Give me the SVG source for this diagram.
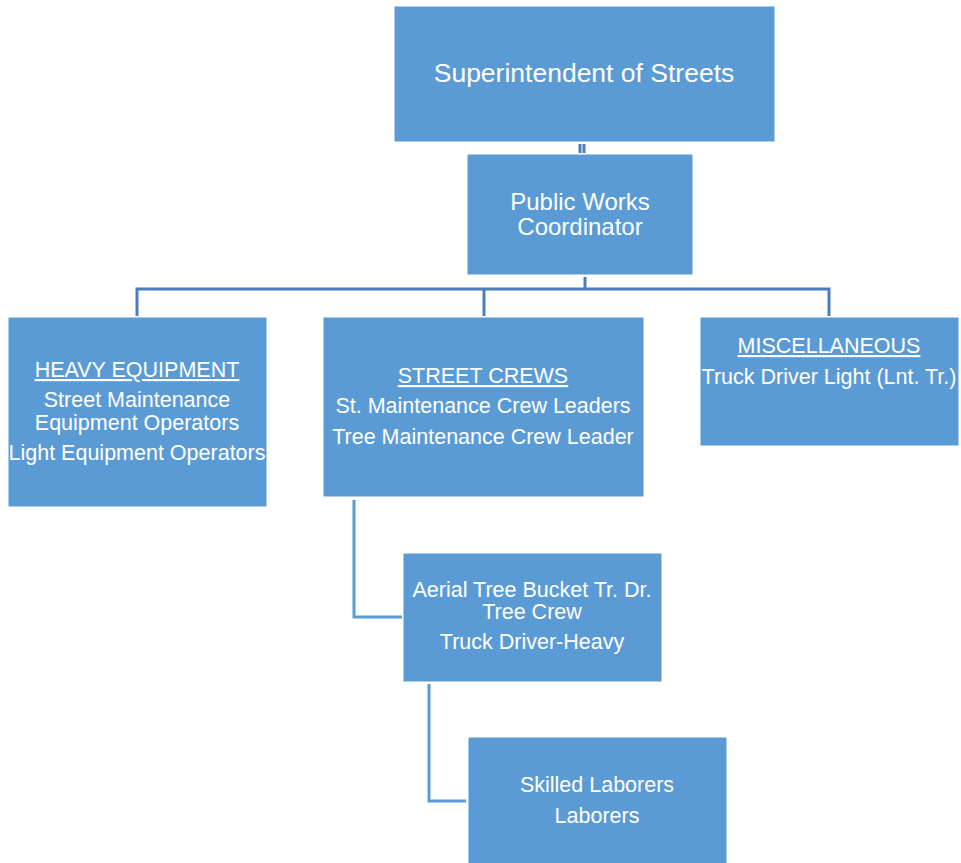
<svg xmlns="http://www.w3.org/2000/svg" width="961" height="863" viewBox="0 0 961 863">
<style>
.box{fill:#5B9BD5;stroke:#5B9BD5;stroke-width:1}
text{font-family:"Liberation Sans",Arial,sans-serif;fill:#fff;text-anchor:middle;font-size:21.5px}
.big{font-size:26.5px}
.mid{font-size:24px}
.u{text-decoration:underline}
.c1{stroke:#4A7EBB;stroke-width:3;fill:none}
.c2{stroke:#5B9BD5;stroke-width:3;fill:none}
</style>
<rect width="961" height="863" fill="#fff"/>
<g id="connectors">
<line class="c1" x1="580" y1="144" x2="580" y2="153"/>
<line class="c1" x1="584" y1="144" x2="584" y2="153"/>
<polyline class="c1" points="585,277 585,289"/>
<polyline class="c1" points="137,316 137,289 829,289 829,316"/>
<line class="c1" x1="484" y1="289" x2="484" y2="316"/>
<polyline class="c2" points="354,500 354,617 402,617"/>
<polyline class="c2" points="429,684 429,801 466,801"/>
</g>
<g id="superintendent">
<rect class="box" x="395" y="7" width="379" height="134"/>
<text class="big" x="584" y="82">Superintendent of Streets</text>
</g>
<g id="coordinator">
<rect class="box" x="468" y="155" width="224" height="119"/>
<text class="mid" x="580" y="210">Public Works</text>
<text class="mid" x="580" y="235">Coordinator</text>
</g>
<g id="heavy">
<rect class="box" x="9" y="318" width="257" height="188"/>
<text class="u" x="137" y="377">HEAVY EQUIPMENT</text>
<text x="137" y="407">Street Maintenance</text>
<text x="137" y="430">Equipment Operators</text>
<text x="137" y="460">Light Equipment Operators</text>
</g>
<g id="crews">
<rect class="box" x="324" y="318" width="319" height="178"/>
<text class="u" x="483" y="383">STREET CREWS</text>
<text x="483" y="413">St. Maintenance Crew Leaders</text>
<text x="483" y="444">Tree Maintenance Crew Leader</text>
</g>
<g id="misc">
<rect class="box" x="701" y="318" width="257" height="127"/>
<text class="u" x="829" y="353">MISCELLANEOUS</text>
<text x="829" y="384">Truck Driver Light (Lnt. Tr.)</text>
</g>
<g id="aerial">
<rect class="box" x="404" y="554" width="257" height="127"/>
<text x="532" y="597">Aerial Tree Bucket Tr. Dr.</text>
<text x="532" y="619">Tree Crew</text>
<text x="532" y="649">Truck Driver-Heavy</text>
</g>
<g id="laborers">
<rect class="box" x="469" y="738" width="257" height="125"/>
<text x="597" y="792">Skilled Laborers</text>
<text x="597" y="823">Laborers</text>
</g>
</svg>
